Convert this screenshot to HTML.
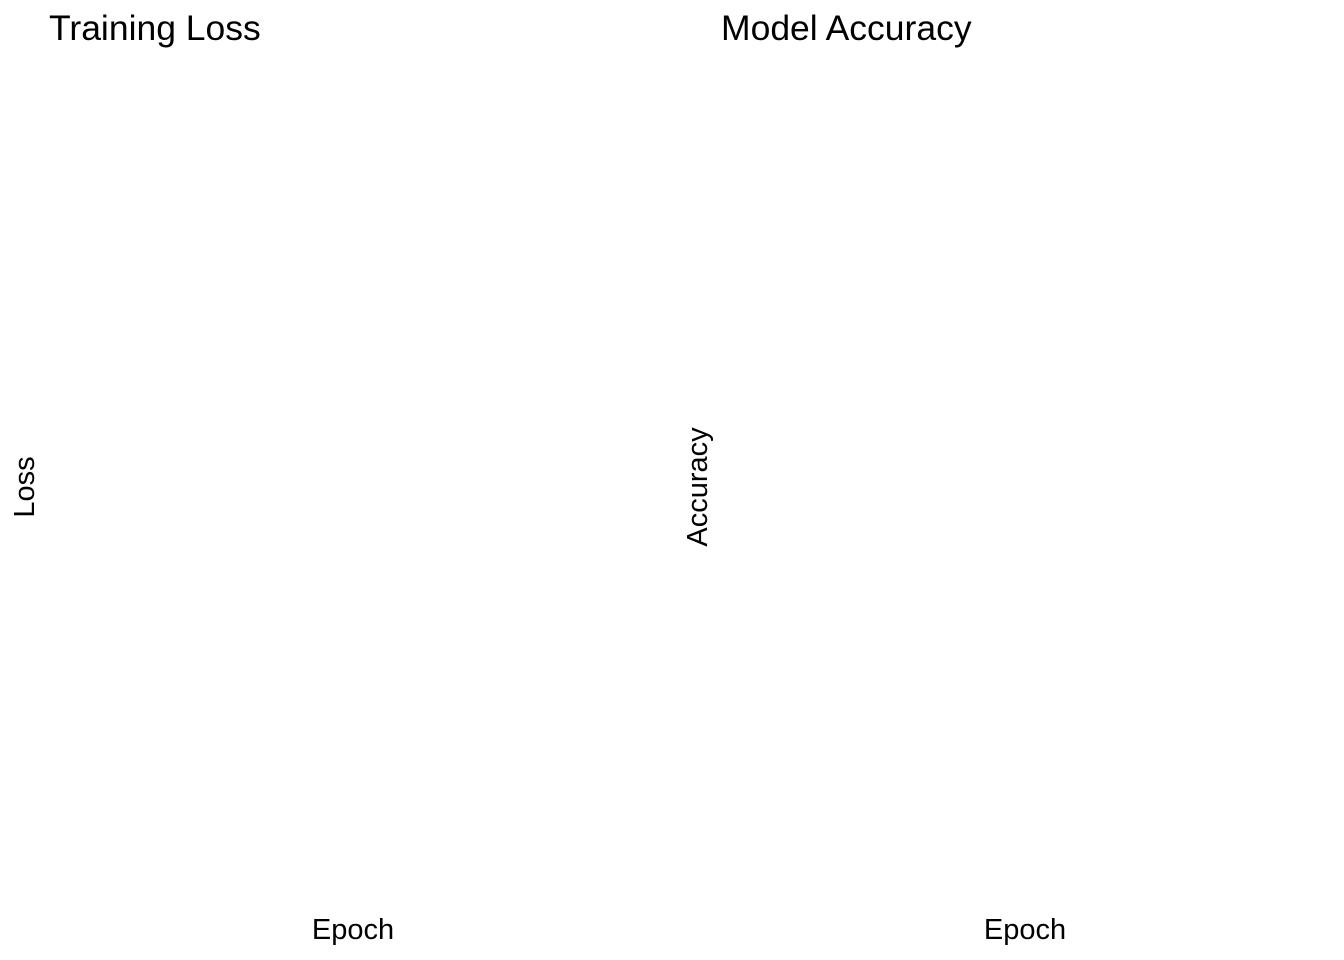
<!DOCTYPE html>
<html>
<head>
<meta charset="utf-8">
<style>
  html, body { margin: 0; padding: 0; background: #fff; }
  svg { display: block; }
  text { font-family: "Liberation Sans", Arial, sans-serif; fill: #000; }
</style>
</head>
<body>
<svg width="1344" height="960" viewBox="0 0 1344 960" xmlns="http://www.w3.org/2000/svg">
  <rect width="1344" height="960" fill="#fff"/>
  <text x="49" y="40" font-size="35.5">Training Loss</text>
  <text x="721" y="40" font-size="35.5">Model Accuracy</text>
  <text x="353" y="939" font-size="29" text-anchor="middle">Epoch</text>
  <text x="1025" y="939" font-size="29" text-anchor="middle">Epoch</text>
  <text transform="translate(34,487) rotate(-90)" font-size="29" text-anchor="middle">Loss</text>
  <text transform="translate(707,487) rotate(-90)" font-size="29" text-anchor="middle">Accuracy</text>
</svg>
</body>
</html>
